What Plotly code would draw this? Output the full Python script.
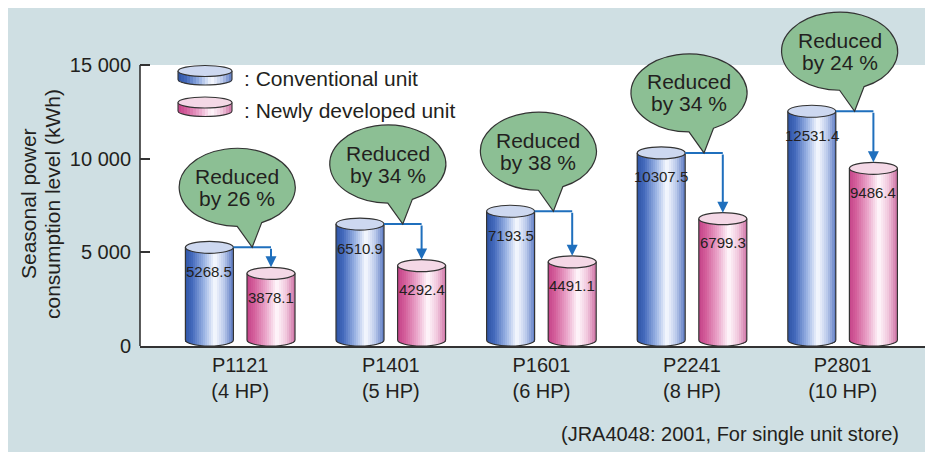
import math
import plotly.graph_objects as go

# ---------------- data ----------------
categories = ["P1121<br>(4 HP)", "P1401<br>(5 HP)", "P1601<br>(6 HP)", "P2241<br>(8 HP)", "P2801<br>(10 HP)"]
conventional = [5268.5, 6510.9, 7193.5, 10307.5, 12531.4]
newly_developed = [3878.1, 4292.4, 4491.1, 6799.3, 9486.4]
reduction_pct = [26, 34, 38, 34, 24]
y_tick_vals = [0, 5000, 10000, 15000]
y_tick_text = ["0", "5 000", "10 000", "15 000"]
legend_labels = [": Conventional unit", ": Newly developed unit"]
y_title_lines = ["Seasonal power", "consumption level (kWh)"]
footnote = "(JRA4048: 2001, For single unit store)"

# ---------------- geometry / style ----------------
# page is rendered with an 8px body margin; pixel positions below are page coordinates
PAGE_OFF = 8
W, H = 933 - PAGE_OFF, 452 - PAGE_OFF
PL, PR, PT, PB = 140, 930, 8, 346          # plot area in page pixels
X0_PX = 240.2                              # pixel of first category
PX_PER_CAT = 150.6
Y_PX_PER_UNIT = 281 / 15000.0
x_range = [(PL - X0_PX) / PX_PER_CAT, (PR - X0_PX) / PX_PER_CAT]
y_range = [0, (PB - PT) / Y_PX_PER_UNIT]


def dx(px):
    return px / PX_PER_CAT


def dy(px):
    return px / Y_PX_PER_UNIT


def paper_x(px):
    return (px - PL) / (PR - PL)


def paper_y(py):
    return (PB - py) / (PB - PT)


FONT = "Liberation Sans, Arial, Helvetica, sans-serif"
TXT = "#231f20"
EDGE = "#333333"
ARROW = "#1f6fbd"
PANEL = "#cfdfe3"
GREEN = "#8cbf94"

BLUE = [(0.0, (46, 84, 165)), (0.15, (68, 106, 188)), (0.40, (155, 180, 228)),
        (0.62, (248, 250, 255)), (0.82, (185, 200, 234)), (1.0, (92, 122, 194))]
PINK = [(0.0, (196, 66, 136)), (0.15, (212, 96, 156)), (0.40, (235, 168, 204)),
        (0.62, (255, 248, 252)), (0.82, (240, 198, 220)), (1.0, (206, 114, 165))]
BLUE_TOP = "#cdd8f0"
PINK_TOP = "#f4d8e6"


def grad(stops, t):
    for (t0, c0), (t1, c1) in zip(stops, stops[1:]):
        if t <= t1:
            f = (t - t0) / (t1 - t0)
            return "rgb(%d,%d,%d)" % tuple(round(a + (b - a) * f) for a, b in zip(c0, c1))
    return "rgb(%d,%d,%d)" % stops[-1][1]


KAPPA = 0.5523
BAR_W = dx(48)
OFF = dx(30.8)
CAP = dy(6)
NSLICE = 24

fig = go.Figure()
shapes = []
annotations = []

xs = list(range(len(categories)))
series = [(conventional, -OFF, BLUE, BLUE_TOP), (newly_developed, OFF, PINK, PINK_TOP)]

# gradient cylinders: many thin bars per cylinder, drawn on the category axis
for vals, off, stops, topc in series:
    for k in range(NSLICE):
        t = (k + 0.5) / NSLICE
        u = 2 * t - 1
        b = CAP * (1 - math.sqrt(max(0.0, 1 - u * u)))
        left = off - BAR_W / 2 + k * BAR_W / NSLICE
        wdt = min(BAR_W / NSLICE * 1.35, off + BAR_W / 2 - left)
        fig.add_trace(go.Bar(
            x=xs, y=[v - b for v in vals], base=b, width=wdt, offset=left,
            marker=dict(color=grad(stops, t), line=dict(width=0)),
            hoverinfo="skip", showlegend=False))
    for i, v in zip(xs, vals):
        xl, xr, xc = i + off - BAR_W / 2, i + off + BAR_W / 2, i + off
        hw = BAR_W / 2
        path = (f"M{xl},{v} L{xl},{CAP} "
                f"C{xl},{CAP - KAPPA * CAP} {xc - KAPPA * hw},0 {xc},0 "
                f"C{xc + KAPPA * hw},0 {xr},{CAP - KAPPA * CAP} {xr},{CAP} L{xr},{v}")
        shapes.append(dict(type="path", xref="x", yref="y", path=path,
                           line=dict(color=EDGE, width=1.2), layer="above"))
        shapes.append(dict(type="circle", xref="x", yref="y", x0=xl, x1=xr,
                           y0=v - CAP, y1=v + CAP, fillcolor=topc,
                           line=dict(color=EDGE, width=1.2), layer="above"))
        annotations.append(dict(x=xc, y=v, xref="x", yref="y", yshift=-24,
                                text=f"{v:.1f}", showarrow=False,
                                font=dict(family=FONT, size=15, color=TXT)))


def ellipse_pt(cx, cy, rx, ry, th):
    return (cx + dx(rx * math.cos(th)), cy - dy(ry * math.sin(th)))


def callout_path(cx, cy, tipx, tipy, rx=58, ry=39, a1=65, a2=90):
    a1r, a2r = math.radians(a1), math.radians(a2)
    start, end = a2r, a1r + 2 * math.pi
    nseg = 4
    seg = (end - start) / nseg
    kk = 4 / 3 * math.tan(seg / 4)
    p0 = ellipse_pt(cx, cy, rx, ry, start)
    parts = [f"M{p0[0]},{p0[1]}"]
    for s in range(nseg):
        t0 = start + s * seg
        t1 = t0 + seg
        P0 = (rx * math.cos(t0), ry * math.sin(t0))
        P3 = (rx * math.cos(t1), ry * math.sin(t1))
        D0 = (-rx * math.sin(t0), ry * math.cos(t0))
        D1 = (-rx * math.sin(t1), ry * math.cos(t1))
        P1 = (P0[0] + kk * D0[0], P0[1] + kk * D0[1])
        P2 = (P3[0] - kk * D1[0], P3[1] - kk * D1[1])
        pts = [(cx + dx(p[0]), cy - dy(p[1])) for p in (P1, P2, P3)]
        parts.append("C" + " ".join(f"{a},{b}" for a, b in pts))
    parts.append(f"L{tipx},{tipy} Z")
    return " ".join(parts)


# reduction arrows and callouts
for i, vb, vp, pct in zip(xs, conventional, newly_developed, reduction_pct):
    bx_r = i - OFF + BAR_W / 2
    px_c = i + OFF
    shapes.append(dict(type="line", xref="x", yref="y", x0=bx_r, x1=px_c, y0=vb, y1=vb,
                       line=dict(color=ARROW, width=2), layer="above"))
    annotations.append(dict(x=px_c, y=vp + CAP, xref="x", yref="y", ax=px_c, ay=vb,
                            axref="x", ayref="y", text="", showarrow=True, arrowhead=2,
                            arrowsize=1.1, arrowwidth=2, arrowcolor=ARROW, standoff=0))
    tipx = (bx_r + px_c) / 2
    tipy = vb
    cx = tipx + dx(-15)
    cy = tipy + dy(60)
    shapes.append(dict(type="path", xref="x", yref="y", path=callout_path(cx, cy, tipx, tipy),
                       fillcolor=GREEN, line=dict(color=EDGE, width=1.2), layer="above"))
    annotations.append(dict(x=cx, y=cy, xref="x", yref="y", yshift=11, text="Reduced",
                            showarrow=False, font=dict(family=FONT, size=21, color=TXT)))
    annotations.append(dict(x=cx, y=cy, xref="x", yref="y", yshift=-11, text=f"by {pct} %",
                            showarrow=False, font=dict(family=FONT, size=21, color=TXT)))

# white plot region and y axis line (stopping at 15 000)
shapes.insert(0, dict(type="rect", xref="x domain", yref="y", x0=0, x1=1, y0=0, y1=15000,
                      fillcolor="white", line=dict(width=0), layer="below"))
shapes.append(dict(type="line", xref="x domain", yref="y", x0=0, x1=0, y0=0, y1=15000,
                   line=dict(color=EDGE, width=1.6), layer="above"))

# legend (decorative disks in pixel space)
legend_items = [(BLUE, BLUE_TOP, 71), (PINK, PINK_TOP, 102.5)]
LX0, LX1, LHH, LTH = 178, 232, 5.5, 8.5
for (stops, topc, ty), label in zip(legend_items, legend_labels):
    M = 18
    by = ty + LTH
    for k in range(M):
        t = (k + 0.5) / M
        u = 2 * t - 1
        xa = LX0 + (LX1 - LX0) * k / M
        xb = min(LX1, xa + (LX1 - LX0) / M * 1.4)
        yb = by + LHH * math.sqrt(max(0.0, 1 - u * u))
        shapes.append(dict(type="rect", xref="paper", yref="paper",
                           x0=paper_x(xa), x1=paper_x(xb), y0=paper_y(yb), y1=paper_y(ty),
                           fillcolor=grad(stops, t), line=dict(width=0), layer="above"))
    xm, hw = (LX0 + LX1) / 2, (LX1 - LX0) / 2
    pts = [(LX0, ty), (LX0, by), (LX0, by + KAPPA * LHH), (xm - KAPPA * hw, by + LHH), (xm, by + LHH),
           (xm + KAPPA * hw, by + LHH), (LX1, by + KAPPA * LHH), (LX1, by), (LX1, ty)]
    pp = [(paper_x(a), paper_y(b)) for a, b in pts]
    path = (f"M{pp[0][0]},{pp[0][1]} L{pp[1][0]},{pp[1][1]} "
            f"C{pp[2][0]},{pp[2][1]} {pp[3][0]},{pp[3][1]} {pp[4][0]},{pp[4][1]} "
            f"C{pp[5][0]},{pp[5][1]} {pp[6][0]},{pp[6][1]} {pp[7][0]},{pp[7][1]} "
            f"L{pp[8][0]},{pp[8][1]}")
    shapes.append(dict(type="path", xref="paper", yref="paper", path=path,
                       line=dict(color=EDGE, width=1.1), layer="above"))
    shapes.append(dict(type="circle", xref="paper", yref="paper", x0=paper_x(LX0), x1=paper_x(LX1),
                       y0=paper_y(ty + LHH), y1=paper_y(ty - LHH), fillcolor=topc,
                       line=dict(color=EDGE, width=1.1), layer="above"))
    annotations.append(dict(x=paper_x(242), y=paper_y(ty + 7.5), xref="paper", yref="paper",
                            xanchor="left", yanchor="middle", text=label, showarrow=False,
                            font=dict(family=FONT, size=21, color=TXT)))

# y title (two lines)
for px, line in zip([28, 52], y_title_lines):
    annotations.append(dict(x=paper_x(px), y=paper_y(204), xref="paper", yref="paper",
                            text=line, textangle=-90, showarrow=False,
                            xanchor="center", yanchor="middle",
                            font=dict(family=FONT, size=21, color=TXT)))

annotations.append(dict(x=paper_x(901), y=paper_y(434), xref="paper", yref="paper",
                        xanchor="right", yanchor="middle", text=footnote, showarrow=False,
                        font=dict(family=FONT, size=20, color=TXT)))

fig.update_layout(
    width=W, height=H,
    margin=dict(l=PL - PAGE_OFF, r=933 - PR, t=PT - PAGE_OFF, b=452 - PB, pad=0),
    paper_bgcolor=PANEL, plot_bgcolor="rgba(0,0,0,0)",
    barmode="overlay", bargap=0,
    showlegend=False,
    xaxis=dict(range=x_range, tickvals=xs, ticktext=categories, showline=True,
               linecolor=EDGE, linewidth=2, ticks="", showgrid=False, zeroline=False,
               tickfont=dict(family=FONT, size=20, color=TXT), fixedrange=True),
    yaxis=dict(range=y_range, tickvals=y_tick_vals, ticktext=y_tick_text, ticks="inside",
               ticklen=10, tickwidth=1.6, tickcolor=EDGE, showline=False, showgrid=False,
               zeroline=False, ticklabelstandoff=8,
               tickfont=dict(family=FONT, size=20, color=TXT), fixedrange=True),
    shapes=shapes, annotations=annotations,
)

fig.write_html("out.html", config={"displayModeBar": False})
